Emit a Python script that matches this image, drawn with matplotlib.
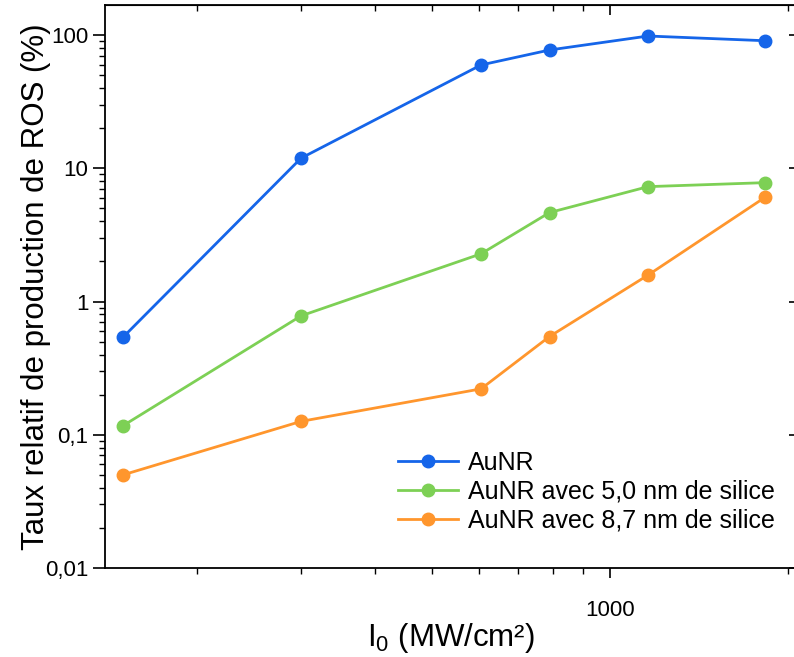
import matplotlib
matplotlib.use("Agg")
import matplotlib.pyplot as plt
from matplotlib.ticker import FixedLocator, FuncFormatter, NullFormatter

plt.rcParams["font.family"] = ["Liberation Sans", "DejaVu Sans"]
plt.rcParams["mathtext.fontset"] = "custom"
plt.rcParams["mathtext.rm"] = "Liberation Sans"
plt.rcParams["mathtext.default"] = "regular"

# intensite laser (MW/cm2)
intensite = [150, 300, 605, 790, 1160, 1830]

# taux relatif de production de ROS (%)
aunr = [0.54, 11.9, 59.6, 77.2, 98.3, 90.6]
aunr_si50 = [0.117, 0.78, 2.28, 4.65, 7.28, 7.8]
aunr_si87 = [0.050, 0.126, 0.221, 0.546, 1.58, 6.06]

labels = ["AuNR", "AuNR avec 5,0 nm de silice", "AuNR avec 8,7 nm de silice"]
couleurs = ["#1565E9", "#7DD055", "#FF962D"]

yticks = [0.01, 0.1, 1, 10, 100]
xminor = [200, 300, 400, 500, 600, 700, 800, 900, 2000]

fig = plt.figure(figsize=(7.94, 6.57), dpi=100)
ax = fig.add_axes([105 / 794, 1 - 568 / 657, (796 - 105) / 794, (568 - 5) / 657])

for serie, lab, c in zip([aunr, aunr_si50, aunr_si87], labels, couleurs):
    ax.plot(intensite, serie, "-o", color=c, lw=2, ms=9, label=lab)

ax.set_xscale("log")
ax.set_yscale("log")
ax.set_xlim(139.8, 2064)
ax.set_ylim(0.01, 168)

# virgule comme separateur decimal
fmt = FuncFormatter(lambda v, p: ("%g" % v).replace(".", ","))
ax.yaxis.set_major_locator(FixedLocator(yticks))
ax.yaxis.set_major_formatter(fmt)
ax.yaxis.set_minor_formatter(NullFormatter())
ax.xaxis.set_major_locator(FixedLocator([1000]))
ax.xaxis.set_major_formatter(fmt)
ax.xaxis.set_minor_locator(FixedLocator(xminor))
ax.xaxis.set_minor_formatter(NullFormatter())

ax.tick_params(axis="both", which="major", labelsize=16, direction="out", width=1.2)
ax.tick_params(axis="x", which="major", length=7, pad=16)
ax.tick_params(axis="y", which="major", length=9, pad=3)
ax.tick_params(axis="both", which="minor", length=4, width=1.0, direction="out")

# ticks interieurs en haut et a droite
top = ax.secondary_xaxis("top")
top.xaxis.set_major_locator(FixedLocator([1000]))
top.xaxis.set_minor_locator(FixedLocator(xminor))
top.xaxis.set_major_formatter(NullFormatter())
top.xaxis.set_minor_formatter(NullFormatter())
top.tick_params(which="major", direction="in", length=7, width=1.2)
top.tick_params(which="minor", direction="in", length=4, width=1.0)

right = ax.secondary_yaxis("right")
right.yaxis.set_major_locator(FixedLocator(yticks))
right.yaxis.set_minor_locator(FixedLocator([]))
right.yaxis.set_major_formatter(NullFormatter())
right.tick_params(which="major", direction="in", length=5, width=1.2)

for sp in ax.spines.values():
    sp.set_linewidth(1.3)

ax.set_xlabel("I$_0$ (MW/cm²)", fontsize=22.5, labelpad=0)
ax.set_ylabel("Taux relatif de production de ROS (%)", fontsize=22.5, labelpad=-4)

ax.legend(loc="lower left", bbox_to_anchor=(0.41, 0.045), frameon=False, fontsize=18,
          handlelength=2.4, handletextpad=0.4, labelspacing=0.2, borderaxespad=0)

fig.savefig("out.png", dpi=100)
